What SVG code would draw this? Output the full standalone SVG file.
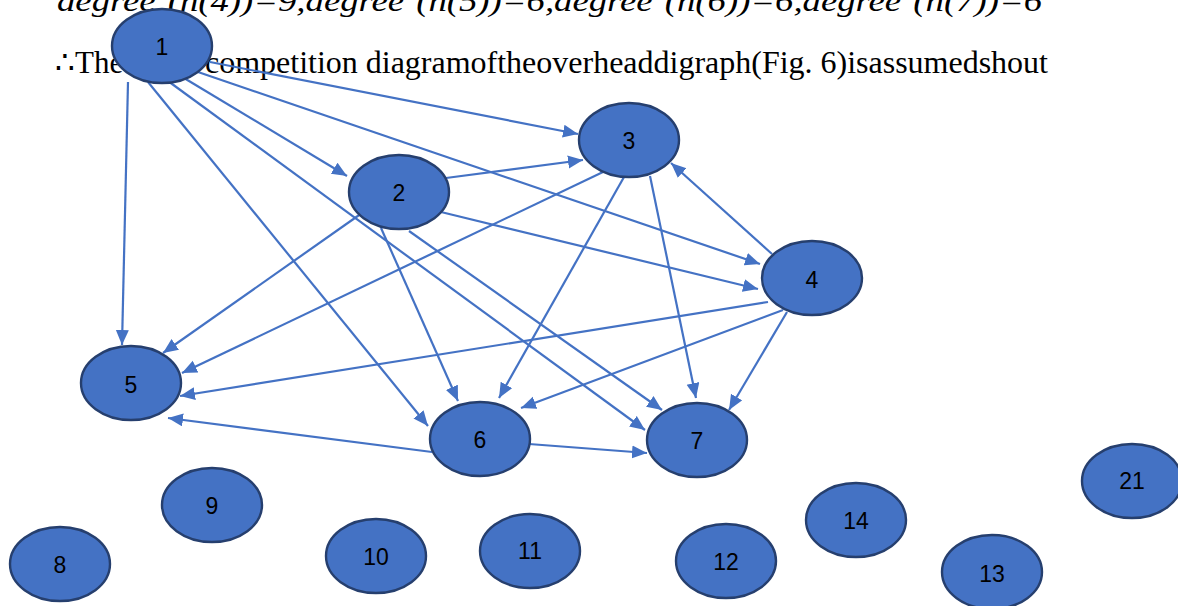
<svg xmlns="http://www.w3.org/2000/svg" width="1178" height="606" viewBox="0 0 1178 606">
<style>
.node ellipse{fill:#4472C4;stroke:#263F6E;stroke-width:2.4}
.node text{font-family:"Liberation Sans",Arial,sans-serif;font-size:23px;fill:#000;text-anchor:middle;dominant-baseline:central}
.edge{stroke:#4472C4;stroke-width:2.2;fill:none;marker-end:url(#arr)}
.doc{font-family:"Liberation Serif","Times New Roman",serif;fill:#000}
</style>
<defs>
<marker id="arr" markerUnits="userSpaceOnUse" markerWidth="16" markerHeight="14" refX="15" refY="6.5" orient="auto">
<path d="M0,0 L15,6.5 L0,13 z" fill="#4472C4"/>
</marker>
</defs>
<rect width="1178" height="606" fill="#fff"/>
<g id="text">
<text class="doc" x="57" y="11" font-size="30" font-style="italic" textLength="985" lengthAdjust="spacingAndGlyphs">degree⁻(n(4))=9,degree⁻(n(5))=6,degree⁻(n(6))=6,degree⁻(n(7))=6</text>
<text class="doc" x="55" y="73" font-size="31">∴The</text>
<text class="doc" x="205" y="73" font-size="31" textLength="843" lengthAdjust="spacingAndGlyphs">competition diagramoftheoverheaddigraph(Fig. 6)isassumedshout</text>
</g>
<g id="connectors">
<line class="edge" x1="128" y1="82" x2="122" y2="345"/>
<line class="edge" x1="148" y1="82" x2="428" y2="426"/>
<line class="edge" x1="168" y1="81" x2="645" y2="430"/>
<line class="edge" x1="184" y1="78" x2="347" y2="176"/>
<line class="edge" x1="198" y1="72" x2="760" y2="264"/>
<line class="edge" x1="210" y1="62" x2="578" y2="134"/>
<line class="edge" x1="446" y1="178" x2="583" y2="160"/>
<line class="edge" x1="441" y1="212" x2="758" y2="289"/>
<line class="edge" x1="362" y1="213" x2="163" y2="353"/>
<line class="edge" x1="381" y1="228" x2="458" y2="401"/>
<line class="edge" x1="409" y1="231" x2="662" y2="410"/>
<line class="edge" x1="603" y1="172" x2="182" y2="373"/>
<line class="edge" x1="624" y1="177" x2="499" y2="398"/>
<line class="edge" x1="650" y1="176" x2="696" y2="398"/>
<line class="edge" x1="772" y1="254" x2="671" y2="163"/>
<line class="edge" x1="768" y1="302" x2="180" y2="396"/>
<line class="edge" x1="783" y1="310" x2="521" y2="408"/>
<line class="edge" x1="787" y1="312" x2="729" y2="410"/>
<line class="edge" x1="432" y1="452" x2="168" y2="418"/>
<line class="edge" x1="529" y1="444" x2="647" y2="453"/>
</g>
<g id="n1" class="node"><ellipse cx="162" cy="46" rx="50" ry="37"/><text x="162" y="47">1</text></g>
<g id="n2" class="node"><ellipse cx="399" cy="192" rx="50" ry="37"/><text x="399" y="193">2</text></g>
<g id="n3" class="node"><ellipse cx="629" cy="140" rx="50" ry="37"/><text x="629" y="141">3</text></g>
<g id="n4" class="node"><ellipse cx="812" cy="278" rx="50" ry="37"/><text x="812" y="280">4</text></g>
<g id="n5" class="node"><ellipse cx="131" cy="383" rx="50" ry="37"/><text x="131" y="385">5</text></g>
<g id="n6" class="node"><ellipse cx="480" cy="439" rx="50" ry="37"/><text x="480" y="440">6</text></g>
<g id="n7" class="node"><ellipse cx="697" cy="440" rx="50" ry="37"/><text x="697" y="441">7</text></g>
<g id="n8" class="node"><ellipse cx="60" cy="564" rx="50" ry="37"/><text x="60" y="565">8</text></g>
<g id="n9" class="node"><ellipse cx="212" cy="505" rx="50" ry="37"/><text x="212" y="506">9</text></g>
<g id="n10" class="node"><ellipse cx="376" cy="556" rx="50" ry="37"/><text x="376" y="557">10</text></g>
<g id="n11" class="node"><ellipse cx="530" cy="551" rx="50" ry="37"/><text x="530" y="551">11</text></g>
<g id="n12" class="node"><ellipse cx="726" cy="561" rx="50" ry="37"/><text x="726" y="562">12</text></g>
<g id="n14" class="node"><ellipse cx="856" cy="520" rx="50" ry="37"/><text x="856" y="521">14</text></g>
<g id="n13" class="node"><ellipse cx="992" cy="572" rx="50" ry="37"/><text x="992" y="574">13</text></g>
<g id="n21" class="node"><ellipse cx="1132" cy="481" rx="50" ry="37"/><text x="1132" y="481">21</text></g>
</svg>
